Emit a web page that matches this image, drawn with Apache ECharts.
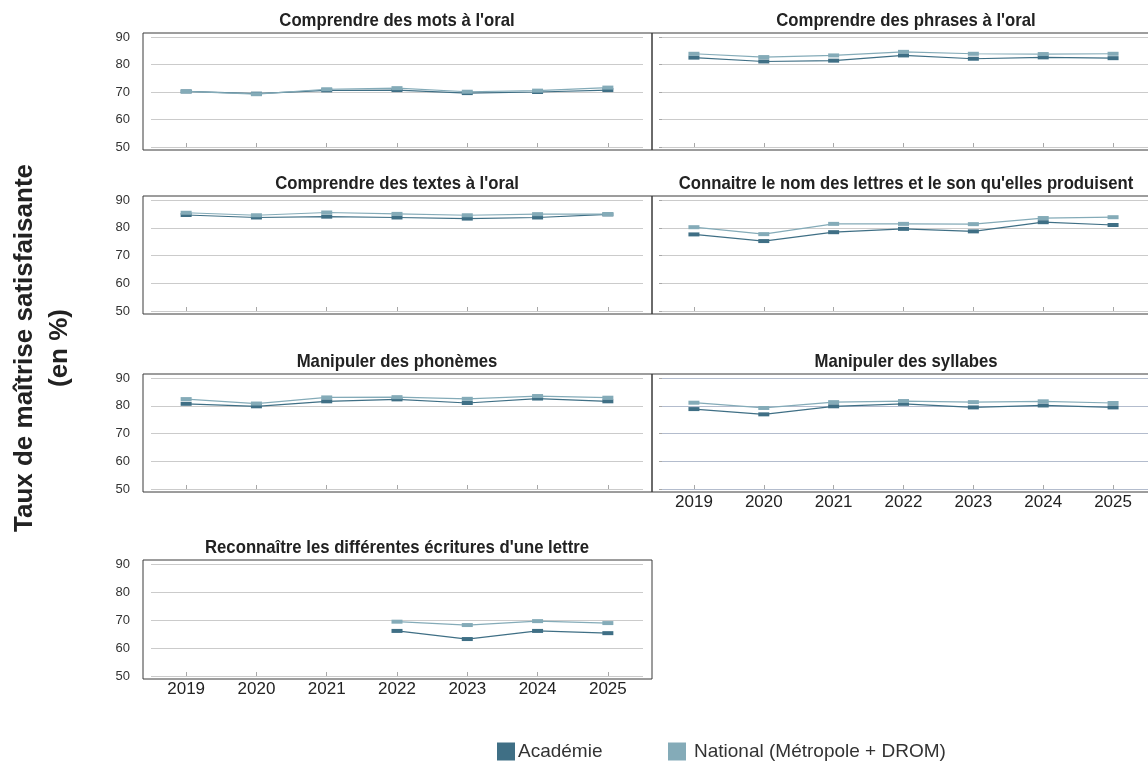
<!DOCTYPE html>
<html>
<head>
<meta charset="utf-8">
<script src="https://cdn.jsdelivr.net/npm/echarts@6/dist/echarts.min.js"></script>
<style>
  html, body { margin: 0; padding: 0; background: #fff; }
  #chart { width: 1148px; height: 762px; }
</style>
</head>
<body>
<div id="chart"></div>
<script>
  // données
  var years = ['2019', '2020', '2021', '2022', '2023', '2024', '2025'];
  var yTicks = [50, 60, 70, 80, 90];

  var motsAcad = [70.2, 69.4, 70.6, 70.7, 69.6, 70.0, 70.7];
  var motsNat = [70.2, 69.2, 71.0, 71.4, 70.1, 70.5, 71.6];

  var phrasesAcad = [82.5, 81.1, 81.4, 83.3, 82.1, 82.6, 82.3];
  var phrasesNat = [83.9, 82.7, 83.3, 84.6, 83.9, 83.8, 83.9];

  var textesAcad = [84.6, 83.7, 84.0, 83.7, 83.3, 83.7, 84.8];
  var textesNat = [85.4, 84.5, 85.5, 85.0, 84.5, 84.9, 84.9];

  var lettresAcad = [77.6, 75.2, 78.4, 79.6, 78.7, 82.0, 81.0];
  var lettresNat = [80.2, 77.7, 81.4, 81.4, 81.3, 83.5, 83.8];

  var phonemesAcad = [80.7, 79.8, 81.6, 82.3, 81.0, 82.6, 81.6];
  var phonemesNat = [82.4, 80.8, 83.0, 83.1, 82.5, 83.5, 82.9];

  var syllabesAcad = [78.8, 76.9, 79.8, 80.7, 79.4, 80.1, 79.4];
  var syllabesNat = [81.1, 79.2, 81.3, 81.7, 81.3, 81.6, 81.0];

  var ecrituresAcad = [null, null, null, 66.1, 63.2, 66.1, 65.3];
  var ecrituresNat = [null, null, null, 69.4, 68.2, 69.6, 68.9];

  var panels = [
    { title: "Comprendre des mots à l'oral", acad: motsAcad, nat: motsNat },
    { title: "Comprendre des phrases à l'oral", acad: phrasesAcad, nat: phrasesNat },
    { title: "Comprendre des textes à l'oral", acad: textesAcad, nat: textesNat },
    { title: "Connaitre le nom des lettres et le son qu'elles produisent", acad: lettresAcad, nat: lettresNat },
    { title: 'Manipuler des phonèmes', acad: phonemesAcad, nat: phonemesNat },
    { title: 'Manipuler des syllabes', acad: syllabesAcad, nat: syllabesNat },
    { title: "Reconnaître les différentes écritures d'une lettre", acad: ecrituresAcad, nat: ecrituresNat }
  ];

  var acadName = 'Académie';
  var natName = 'National (Métropole + DROM)';
  var acadColor = '#3f6f85';
  var natColor = '#84abb8';

  // position des panneaux (colonne gauche / droite)
  var rowsTop = [37, 200, 378, 564];
  var rowsH = [110, 111, 111, 112];
  var sans = "'Liberation Sans', Arial, sans-serif";

  var grids = [], xAxes = [], yAxes = [], series = [], graphics = [];

  panels.forEach(function (p, i) {
    var col = i % 2, row = Math.floor(i / 2);
    var left = col === 0 ? 151 : 659;
    var width = col === 0 ? 492 : 489;
    var top = rowsTop[row], h = rowsH[row];
    var showX = (i === 5 || i === 6);

    grids.push({ left: left, top: top, width: width, height: h });

    xAxes.push({
      type: 'category', gridIndex: i, data: years, boundaryGap: true,
      axisLine: { show: false },
      axisTick: { show: true, inside: true, length: 4, alignWithLabel: true, lineStyle: { color: '#a8a8a8' } },
      axisLabel: { show: showX, fontSize: 17, color: '#222', fontFamily: sans, margin: 5 }
    });

    yAxes.push({
      type: 'value', gridIndex: i, min: yTicks[0], max: yTicks[yTicks.length - 1], interval: 10,
      axisLine: { show: false },
      axisTick: { show: col === 1, inside: true, length: 3, lineStyle: { color: '#a8a8a8' } },
      axisLabel: { show: col === 0, fontSize: 13, color: '#333', fontFamily: sans, margin: 21 },
      splitLine: { lineStyle: { color: i === 5 ? '#b3bccd' : '#cbcbcb', width: 1 } }
    });

    [[acadName, p.acad, acadColor], [natName, p.nat, natColor]].forEach(function (s) {
      series.push({
        name: s[0], type: 'line', xAxisIndex: i, yAxisIndex: i, data: s[1],
        symbol: 'rect', symbolSize: [11, 4],
        itemStyle: { color: s[2] },
        lineStyle: { color: s[2], width: 1.2 },
        z: s[0] === natName ? 3 : 2
      });
    });

    // cadre du panneau
    var boxLeft = col === 0 ? 143 : 652;
    var boxW = col === 0 ? 509 : 510;
    graphics.push({
      type: 'rect', silent: true, z: 1,
      shape: { x: boxLeft, y: top - 4, width: boxW, height: h + 7 },
      style: { fill: 'none', stroke: '#3a3a3a', lineWidth: 1 }
    });

    // titre du panneau (police étroite simulée)
    graphics.push({
      type: 'text', silent: true,
      x: col === 0 ? 397 : 906, y: top - 16, scaleX: 0.88,
      style: {
        text: p.title, align: 'center', verticalAlign: 'middle',
        fontSize: 19, fontWeight: 'bold', fontFamily: sans, fill: '#222'
      }
    });
  });

  graphics.push({
    type: 'text', silent: true, x: 25, y: 348, rotation: Math.PI / 2,
    style: { text: 'Taux de maîtrise satisfaisante', align: 'center', verticalAlign: 'middle',
      fontSize: 26, fontWeight: 'bold', fontFamily: sans, fill: '#222' }
  });
  graphics.push({
    type: 'text', silent: true, x: 60, y: 348, rotation: Math.PI / 2,
    style: { text: '(en %)', align: 'center', verticalAlign: 'middle',
      fontSize: 26, fontWeight: 'bold', fontFamily: sans, fill: '#222' }
  });

  var chart = echarts.init(document.getElementById('chart'));
  chart.setOption({
    animation: false,
    backgroundColor: '#fff',
    grid: grids,
    xAxis: xAxes,
    yAxis: yAxes,
    series: series,
    graphic: graphics,
    legend: [
      {
        left: 492, top: 737, data: [acadName], icon: 'rect', itemWidth: 18, itemHeight: 18,
        textStyle: { fontSize: 19, color: '#333', fontFamily: sans, padding: [0, 0, 0, -2] }
      },
      {
        left: 663, top: 737, data: [natName], icon: 'rect', itemWidth: 18, itemHeight: 18,
        textStyle: { fontSize: 19, color: '#333', fontFamily: sans, padding: [0, 0, 0, 3] }
      }
    ]
  });
</script>
</body>
</html>
